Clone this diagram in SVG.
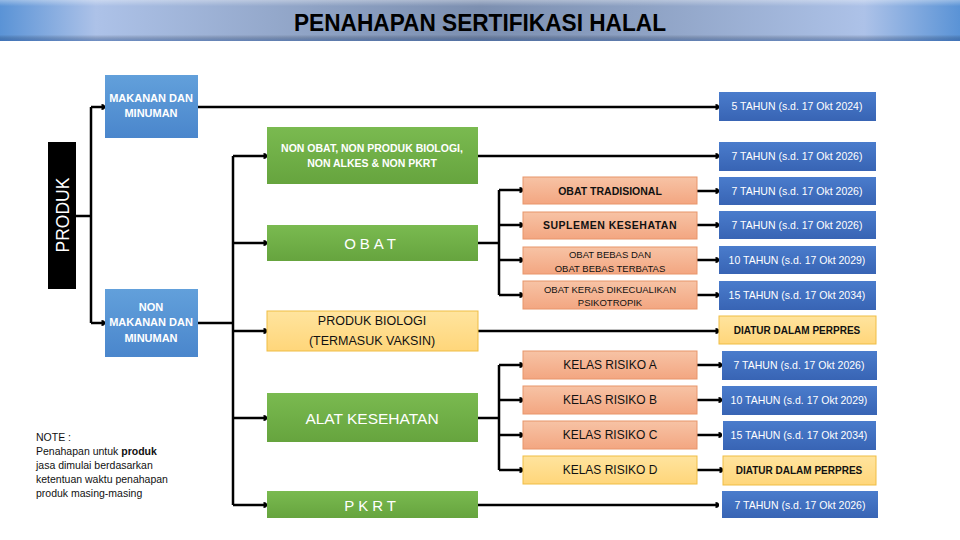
<svg xmlns="http://www.w3.org/2000/svg" width="960" height="540" viewBox="0 0 960 540">
<defs>
<linearGradient id="gTitle" x1="0" y1="0" x2="1" y2="0">
<stop offset="0" stop-color="#5a93d6"/><stop offset="0.1" stop-color="#adc2e8"/><stop offset="0.33" stop-color="#8ea2c4"/><stop offset="0.5" stop-color="#7c8fb0"/><stop offset="0.67" stop-color="#8ea2c4"/><stop offset="0.9" stop-color="#adc2e8"/><stop offset="1" stop-color="#5a93d6"/>
</linearGradient>
<linearGradient id="gTitleV" x1="0" y1="0" x2="0" y2="1">
<stop offset="0" stop-color="#ffffff" stop-opacity="0.35"/><stop offset="0.15" stop-color="#ffffff" stop-opacity="0"/><stop offset="0.85" stop-color="#000000" stop-opacity="0"/><stop offset="1" stop-color="#1f4e9a" stop-opacity="0.45"/>
</linearGradient>
<linearGradient id="gLBlue" x1="0" y1="0" x2="0" y2="1"><stop offset="0" stop-color="#62a0db"/><stop offset="1" stop-color="#4a86cc"/></linearGradient>
<linearGradient id="gBlue" x1="0" y1="0" x2="0" y2="1"><stop offset="0" stop-color="#4a7ccc"/><stop offset="1" stop-color="#3864b4"/></linearGradient>
<linearGradient id="gGreen" x1="0" y1="0" x2="0" y2="1"><stop offset="0" stop-color="#7aba50"/><stop offset="1" stop-color="#66a43e"/></linearGradient>
<linearGradient id="gSalmon" x1="0" y1="0" x2="0" y2="1"><stop offset="0" stop-color="#f7c3a5"/><stop offset="1" stop-color="#f3a681"/></linearGradient>
<linearGradient id="gYellow" x1="0" y1="0" x2="0" y2="1"><stop offset="0" stop-color="#ffe49e"/><stop offset="1" stop-color="#ffd67a"/></linearGradient>
<marker id="tip" viewBox="0 0 4 7" refX="4" refY="3.5" markerWidth="4" markerHeight="7" markerUnits="userSpaceOnUse" orient="auto">
<path d="M0.5,0.5 Q4,0.5 4,3.5 Q4,6.5 0.5,6.5 Z" fill="#000"/>
</marker>
</defs>
<style>
.ln{fill:none;stroke:#000;stroke-width:2.5}
.ar{marker-end:url(#tip)}
.t{font-family:"Liberation Sans",Arial,sans-serif;text-anchor:middle;dominant-baseline:central}
.w{fill:#fff}
.k{fill:#111}
.b{font-weight:bold}
.lb{fill:url(#gLBlue)}
.bl{fill:url(#gBlue)}
.gr{fill:url(#gGreen)}
.sa{fill:url(#gSalmon);stroke:#e8956a;stroke-width:1}
.ye{fill:url(#gYellow);stroke:#efbd45;stroke-width:1}
.yr{font-size:10.5px}
.pp{font-size:10px;font-weight:bold}
</style>
<rect width="960" height="540" fill="#fff"/>
<g id="title">
<rect x="0" y="0" width="960" height="41" fill="url(#gTitle)"/>
<rect x="0" y="0" width="960" height="41" fill="url(#gTitleV)"/>
<text class="t b" x="480" y="22" font-size="24" fill="#000" textLength="372" lengthAdjust="spacingAndGlyphs">PENAHAPAN SERTIFIKASI HALAL</text>
</g>
<g id="connectors">
<path class="ln" d="M76,216 H91 M91,107 V323"/>
<path class="ln ar" d="M91,107 H105"/>
<path class="ln ar" d="M91,323 H105"/>
<path class="ln ar" d="M198,107 H719"/>
<path class="ln" d="M198,323 H233 M233,156 V505"/>
<path class="ln ar" d="M233,156 H267"/>
<path class="ln ar" d="M233,243 H267"/>
<path class="ln ar" d="M233,331 H267"/>
<path class="ln ar" d="M233,418 H267"/>
<path class="ln ar" d="M233,505 H267"/>
<path class="ln ar" d="M478,156 H719"/>
<path class="ln" d="M478,243 H499 M499,190 V295"/>
<path class="ln ar" d="M499,190 H523"/>
<path class="ln ar" d="M499,225 H523"/>
<path class="ln ar" d="M499,260 H523"/>
<path class="ln ar" d="M499,295 H523"/>
<path class="ln ar" d="M478,331 H719"/>
<path class="ln" d="M478,418 H499 M499,365 V470"/>
<path class="ln ar" d="M499,365 H523"/>
<path class="ln ar" d="M499,400 H523"/>
<path class="ln ar" d="M499,435 H523"/>
<path class="ln ar" d="M499,470 H523"/>
<path class="ln ar" d="M478,505 H719"/>
<path class="ln ar" d="M697,191 H719"/>
<path class="ln ar" d="M697,225 H719"/>
<path class="ln ar" d="M697,260 H719"/>
<path class="ln ar" d="M697,295 H719"/>
<path class="ln ar" d="M697,365 H722"/>
<path class="ln ar" d="M697,400 H722"/>
<path class="ln ar" d="M697,435 H722"/>
<path class="ln ar" d="M697,470 H723"/>
</g>
<g id="produk">
<rect x="48" y="142" width="28" height="147" fill="#000"/>
<text class="t w" x="0" y="0" font-size="17.5" transform="translate(63,215) rotate(-90)">PRODUK</text>
</g>
<g id="makanan">
<rect class="lb" x="105" y="75" width="93" height="63"/>
<text class="t w b" x="151" y="98" font-size="11">MAKANAN DAN</text>
<text class="t w b" x="151" y="113" font-size="11">MINUMAN</text>
</g>
<g id="nonmakanan">
<rect class="lb" x="105" y="289" width="93" height="68"/>
<text class="t w b" x="151" y="307" font-size="11">NON</text>
<text class="t w b" x="151" y="322" font-size="11">MAKANAN DAN</text>
<text class="t w b" x="151" y="338" font-size="11">MINUMAN</text>
</g>
<g id="nonobat">
<rect class="gr" x="267" y="127" width="211" height="57"/>
<text class="t w b" x="372" y="148" font-size="10.5">NON OBAT, NON PRODUK BIOLOGI,</text>
<text class="t w b" x="372" y="163" font-size="10.5">NON ALKES &amp; NON PKRT</text>
</g>
<g id="obat">
<rect class="gr" x="267" y="225" width="211" height="36"/>
<text class="t w" x="372" y="243" font-size="15" letter-spacing="4">OBAT</text>
</g>
<g id="produkbiologi">
<rect class="ye" x="267" y="311" width="211" height="40"/>
<text class="t k" x="372" y="321" font-size="12.5">PRODUK BIOLOGI</text>
<text class="t k" x="372" y="341" font-size="12.5">(TERMASUK VAKSIN)</text>
</g>
<g id="alkes">
<rect class="gr" x="267" y="393" width="211" height="49"/>
<text class="t w" x="372" y="418" font-size="15.5">ALAT KESEHATAN</text>
</g>
<g id="pkrt">
<rect class="gr" x="267" y="491" width="211" height="27"/>
<text class="t w" x="372" y="505" font-size="15" letter-spacing="4">PKRT</text>
</g>
<g id="obattradisional">
<rect class="sa" x="523" y="177" width="174" height="27"/>
<text class="t k b" x="610" y="191" font-size="10.5">OBAT TRADISIONAL</text>
</g>
<g id="suplemen">
<rect class="sa" x="523" y="212" width="174" height="27"/>
<text class="t k b" x="610" y="225" font-size="10.5" letter-spacing="0.5">SUPLEMEN KESEHATAN</text>
</g>
<g id="obatbebas">
<rect class="sa" x="523" y="247" width="174" height="27"/>
<text class="t k" x="610" y="254" font-size="9.5">OBAT BEBAS DAN</text>
<text class="t k" x="610" y="268" font-size="9.5">OBAT BEBAS TERBATAS</text>
</g>
<g id="obatkeras">
<rect class="sa" x="523" y="281" width="174" height="28"/>
<text class="t k" x="610" y="289" font-size="9.5">OBAT KERAS DIKECUALIKAN</text>
<text class="t k" x="610" y="302" font-size="9.5">PSIKOTROPIK</text>
</g>
<g id="kelasA">
<rect class="sa" x="523" y="351" width="174" height="28"/>
<text class="t k" x="610" y="365" font-size="12">KELAS RISIKO A</text>
</g>
<g id="kelasB">
<rect class="sa" x="523" y="386" width="174" height="28"/>
<text class="t k" x="610" y="400" font-size="12">KELAS RISIKO B</text>
</g>
<g id="kelasC">
<rect class="sa" x="523" y="421" width="174" height="28"/>
<text class="t k" x="610" y="435" font-size="12">KELAS RISIKO C</text>
</g>
<g id="kelasD">
<rect class="ye" x="523" y="456" width="174" height="28"/>
<text class="t k" x="610" y="470" font-size="12">KELAS RISIKO D</text>
</g>
<g id="t5">
<rect class="bl" x="719" y="92" width="157" height="29"/>
<text class="t w yr" x="797" y="106">5 TAHUN (s.d. 17 Okt 2024)</text>
</g>
<g id="t7a">
<rect class="bl" x="719" y="142" width="157" height="29"/>
<text class="t w yr" x="797" y="156">7 TAHUN (s.d. 17 Okt 2026)</text>
</g>
<g id="t7b">
<rect class="bl" x="719" y="177" width="157" height="28"/>
<text class="t w yr" x="797" y="191">7 TAHUN (s.d. 17 Okt 2026)</text>
</g>
<g id="t7c">
<rect class="bl" x="719" y="211" width="157" height="28"/>
<text class="t w yr" x="797" y="225">7 TAHUN (s.d. 17 Okt 2026)</text>
</g>
<g id="t10a">
<rect class="bl" x="719" y="246" width="157" height="28"/>
<text class="t w yr" x="797" y="260">10 TAHUN (s.d. 17 Okt 2029)</text>
</g>
<g id="t15a">
<rect class="bl" x="719" y="281" width="157" height="29"/>
<text class="t w yr" x="797" y="295">15 TAHUN (s.d. 17 Okt 2034)</text>
</g>
<g id="perpres1">
<rect class="ye" x="719" y="316" width="157" height="28"/>
<text class="t k pp" x="797" y="330">DIATUR DALAM PERPRES</text>
</g>
<g id="t7d">
<rect class="bl" x="722" y="351" width="155" height="29"/>
<text class="t w yr" x="799" y="365">7 TAHUN (s.d. 17 Okt 2026)</text>
</g>
<g id="t10b">
<rect class="bl" x="722" y="386" width="155" height="29"/>
<text class="t w yr" x="799" y="400">10 TAHUN (s.d. 17 Okt 2029)</text>
</g>
<g id="t15b">
<rect class="bl" x="723" y="421" width="153" height="29"/>
<text class="t w yr" x="799" y="435">15 TAHUN (s.d. 17 Okt 2034)</text>
</g>
<g id="perpres2">
<rect class="ye" x="723" y="456" width="153" height="29"/>
<text class="t k pp" x="799" y="470">DIATUR DALAM PERPRES</text>
</g>
<g id="t7e">
<rect class="bl" x="722" y="491" width="156" height="27"/>
<text class="t w yr" x="800" y="505">7 TAHUN (s.d. 17 Okt 2026)</text>
</g>
<g id="note" font-family="'Liberation Sans',Arial,sans-serif" font-size="10.5" fill="#111">
<text x="36" y="441">NOTE :</text>
<text x="36" y="455">Penahapan untuk <tspan font-weight="bold">produk</tspan></text>
<text x="36" y="469">jasa dimulai berdasarkan</text>
<text x="36" y="483">ketentuan waktu penahapan</text>
<text x="36" y="497">produk masing-masing</text>
</g>
</svg>
